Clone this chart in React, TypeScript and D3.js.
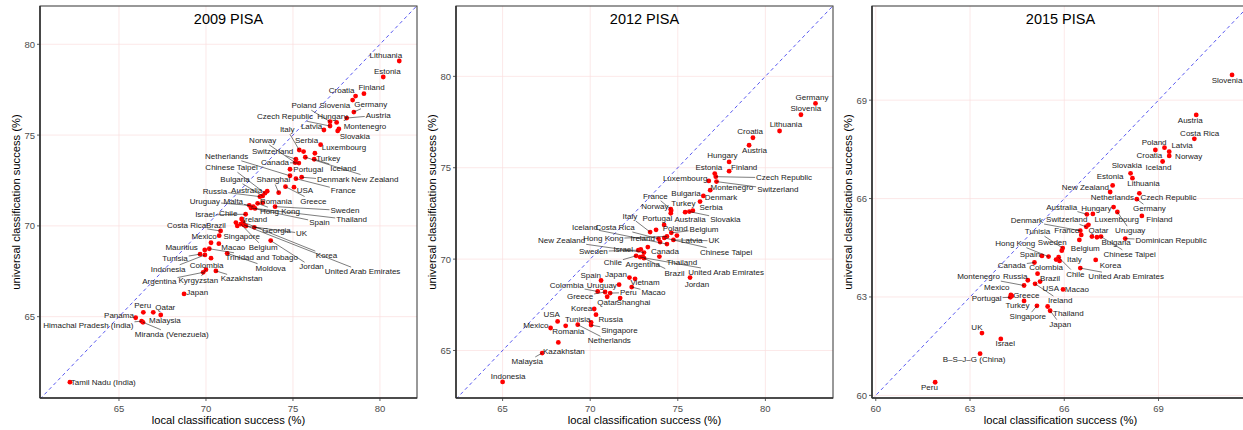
import React from 'react';
import * as d3 from 'd3';

// ---------- 2009 PISA ----------
const countries2009 = ['Lithuania','Estonia','Finland','Croatia','Slovenia','Germany','Poland','Hungary','Austria','Czech Republic','Latvia','Montenegro','Slovakia','Italy','Serbia','Luxembourg','Norway','Switzerland','Turkey','Iceland','New Zealand','Netherlands','Canada','Portugal','Chinese Taipei','Denmark','Bulgaria','Shanghai','France','USA','Greece','Russia','Australia','Uruguay','Malta','Romania','Hong Kong','Sweden','Spain','Thailand','Israel','Chile','Ireland','Costa Rica','Brazil','Singapore','Belgium','Georgia','UK','Korea','Jordan','United Arab Emirates','Mexico','Macao','Mauritius','Tunisia','Trinidad and Tobago','Moldova','Indonesia','Colombia','Argentina','Kyrgyzstan','Kazakhstan','Japan','Peru','Qatar','Malaysia','Panama','Himachal Pradesh (India)','Miranda (Venezuela)','Tamil Nadu (India)'];
const local2009 = [81.11,80.19,79.08,78.60,78.43,78.50,77.13,77.51,78.09,77.13,76.78,77.64,77.57,75.36,75.61,76.59,75.13,75.17,76.26,76.22,75.71,74.83,75.34,74.83,73.39,75.50,73.26,74.18,75.17,75.06,74.57,73.10,73.52,72.49,72.72,73.26,72.97,73.97,72.59,72.82,72.28,71.72,72.05,70.84,70.76,71.80,72.00,72.78,72.30,72.13,73.72,72.18,70.29,70.74,69.93,69.66,70.19,71.22,69.94,70.29,69.84,70.00,70.57,68.74,66.40,66.97,67.40,65.96,66.30,66.38,62.18];
const universal2009 = [79.08,78.20,77.28,77.15,76.93,76.27,75.74,75.70,75.94,75.50,75.28,75.34,75.23,74.18,74.09,74.47,73.48,73.67,74.00,73.67,73.78,72.76,73.46,73.12,71.80,72.68,71.65,71.83,72.60,72.13,72.16,71.61,71.91,71.13,71.06,71.28,71.24,71.06,70.99,70.96,70.64,70.18,70.38,69.72,69.46,70.00,70.10,69.92,69.99,70.21,69.19,70.05,69.07,69.02,68.67,68.44,68.74,68.49,68.40,68.22,67.44,67.59,67.52,66.25,65.24,65.24,65.09,64.94,64.75,64.69,61.39];
const labelLocal2009 = [80.34,80.42,79.52,77.80,77.41,79.47,75.63,77.26,79.90,74.54,76.07,79.14,78.56,74.67,75.78,77.93,73.26,73.83,77.03,77.89,79.71,71.19,73.97,75.88,71.47,77.32,71.67,73.87,77.89,75.69,76.17,70.52,72.34,69.94,71.57,74.02,74.25,77.99,76.52,78.37,69.94,71.28,72.82,68.89,70.57,72.05,73.29,74.06,75.50,76.93,76.07,79.00,69.89,71.57,68.60,68.22,73.20,73.72,67.83,70.04,67.32,69.56,72.05,69.50,66.36,67.66,67.64,65.00,63.24,68.03,64.10];
const labelUniversal2009 = [79.41,78.53,77.61,77.43,76.62,76.70,76.62,76.04,76.09,76.01,75.45,75.48,74.91,75.30,74.69,74.34,74.71,74.12,73.72,73.17,72.58,73.83,73.50,73.12,73.20,72.53,72.57,72.53,71.94,71.94,71.37,71.92,71.96,71.33,71.33,71.33,70.78,70.84,70.20,70.33,70.60,70.69,70.33,70.00,70.00,69.41,68.82,69.72,69.59,68.36,67.75,67.48,69.42,68.82,68.82,68.22,68.27,67.67,67.61,67.81,66.95,67.00,67.08,66.34,65.64,65.50,64.78,65.06,64.50,64.03,61.39];

// ---------- 2012 PISA ----------
const countries2012 = ['Germany','Slovenia','Lithuania','Croatia','Austria','Hungary','Finland','Estonia','Czech Republic','Luxembourg','Switzerland','Montenegro','Bulgaria','Denmark','Serbia','Australia','Slovakia','France','Norway','Turkey','Italy','Portugal','Poland','Belgium','Iceland','Costa Rica','Ireland','Hong Kong','New Zealand','Latvia','UK','Chinese Taipei','Sweden','Israel','Canada','Chile','Argentina','Brazil','Thailand','United Arab Emirates','Jordan','Spain','Japan','Vietnam','Colombia','Uruguay','Greece','Peru','Macao','Qatar','Shanghai','Korea','Russia','USA','Mexico','Tunisia','Romania','Singapore','Netherlands','Kazakhstan','Malaysia','Indonesia'];
const local2012 = [82.86,82.03,80.81,79.29,79.07,77.93,77.93,77.11,77.17,76.77,77.21,76.85,76.46,76.27,75.86,75.42,75.66,74.60,74.60,74.62,73.42,73.76,74.22,74.63,74.38,73.90,73.99,74.38,73.07,74.95,74.75,74.23,72.75,72.89,73.29,72.62,73.00,73.07,73.95,72.85,75.70,70.62,72.24,72.56,70.43,71.65,70.85,71.14,72.37,70.97,71.71,70.23,70.33,68.14,67.74,70.05,68.60,70.05,69.29,68.18,67.26,65.00];
const universal2012 = [78.52,77.90,77.01,76.64,76.23,75.32,74.81,74.68,74.51,74.28,74.24,73.77,73.46,73.15,72.65,72.57,72.60,72.73,72.51,72.64,71.48,71.60,71.87,71.44,70.82,71.11,70.93,71.24,70.36,71.29,71.05,71.16,70.49,70.53,70.66,70.18,70.14,70.05,70.14,70.11,68.99,68.83,68.99,68.92,68.23,68.60,68.20,68.14,68.47,67.94,67.87,67.27,66.96,66.59,66.23,66.54,66.35,66.39,66.41,65.44,64.86,63.28];
const labelLocal2012 = [82.66,82.31,81.17,79.13,79.38,77.55,78.79,76.77,81.07,75.42,80.71,78.09,75.47,77.47,76.90,75.70,77.71,73.72,73.69,75.32,72.27,73.83,74.85,76.50,69.70,71.42,73.00,70.75,68.37,75.80,77.07,77.76,70.18,71.89,74.27,71.29,73.00,74.81,75.23,77.76,76.09,70.03,71.47,73.13,68.66,70.66,69.42,72.18,73.61,70.98,72.47,69.51,71.17,67.80,66.90,69.29,68.75,71.67,71.09,68.50,66.41,65.32];
const labelUniversal2012 = [78.85,78.23,77.34,76.96,75.92,75.66,75.03,74.99,74.44,74.39,73.80,73.93,73.61,73.37,72.80,72.19,72.19,73.44,72.86,73.04,72.33,72.20,71.66,71.64,71.73,71.73,71.11,71.11,71.00,71.00,71.00,70.38,70.42,70.55,70.42,69.81,69.73,69.23,69.81,69.27,68.63,69.10,69.14,68.74,68.54,68.54,67.96,68.17,68.17,67.60,67.60,67.32,66.72,66.96,66.35,66.72,66.04,66.10,65.53,64.95,64.40,63.58];

// ---------- 2015 PISA ----------
const countries2015 = ['Slovenia','Austria','Costa Rica','Poland','Latvia','Croatia','Norway','Iceland','Slovakia','Lithuania','Estonia','New Zealand','Netherlands','Czech Republic','Germany','Finland','Uruguay','Australia','Hungary','Luxembourg','Switzerland','Denmark','France','Qatar','Bulgaria','Chinese Taipei','Dominican Republic','Tunisia','Belgium','Hong Kong','Sweden','Spain','Italy','Canada','Colombia','Chile','Korea','United Arab Emirates','Montenegro','Russia','Brazil','Mexico','Portugal','Greece','USA','Macao','Ireland','Turkey','Singapore','Thailand','Japan','UK','Israel','B\u2013S\u2013J\u2013G (China)','Peru'];
const local2015 = [71.34,70.20,70.14,68.90,69.34,69.19,69.34,69.13,68.11,68.17,67.54,67.46,67.57,68.39,68.31,68.47,67.69,66.72,66.91,66.77,66.70,66.51,66.54,66.88,67.04,67.17,67.94,65.95,66.48,65.50,65.92,65.29,65.85,65.05,65.74,65.82,67.00,66.51,64.72,64.84,65.15,64.30,64.28,64.33,65.23,65.96,65.07,64.72,65.13,65.47,65.55,63.38,63.98,63.32,61.89];
const universal2015 = [69.77,68.55,67.82,67.48,67.43,67.55,67.30,67.13,66.77,66.62,66.40,66.20,65.74,66.16,65.98,65.47,65.59,65.52,65.53,65.20,65.14,65.02,64.89,64.84,64.82,64.84,64.78,64.49,64.74,64.23,64.41,64.25,64.10,64.05,64.14,64.21,64.13,63.88,63.35,63.51,63.71,63.06,62.99,63.03,63.47,63.23,63.40,62.88,62.73,62.71,62.58,61.90,61.72,61.27,60.40];
const labelLocal2015 = [71.18,70.01,70.31,68.86,69.75,68.71,69.96,69.00,67.99,68.52,67.46,66.67,67.53,69.32,68.71,69.03,68.10,65.92,67.02,67.67,66.08,64.81,66.08,67.09,67.65,68.08,69.40,65.15,66.67,64.44,65.62,64.91,66.32,64.33,65.42,66.35,67.47,67.97,63.27,64.44,65.55,63.85,63.53,64.79,65.57,66.40,65.87,64.51,64.84,66.13,65.87,63.22,64.12,63.13,61.71];
const labelUniversal2015 = [69.60,68.37,67.99,67.71,67.61,67.32,67.27,66.95,67.00,66.46,66.67,66.35,66.03,66.02,65.69,65.36,65.02,65.74,65.71,65.35,65.35,65.32,65.02,65.02,64.67,64.30,64.72,64.99,64.47,64.64,64.67,64.30,64.13,63.96,63.90,63.70,63.96,63.62,63.61,63.61,63.57,63.29,62.96,63.04,63.25,63.23,62.89,62.74,62.40,62.51,62.17,62.07,61.57,61.08,60.24];

// ---------- tick labels ----------
const ticks2009 = [65, 70, 75, 80];
const ticks2012 = [65, 70, 75, 80];
const ticks2015 = [60, 63, 66, 69];

const FONT = '"Liberation Sans", Arial, Helvetica, sans-serif';
const LABEL_SIZE = 8;

let ctx: CanvasRenderingContext2D | null = null;
function textWidth(s: string, size: number): number {
  if (typeof document !== 'undefined' && !ctx) {
    ctx = document.createElement('canvas').getContext('2d');
  }
  if (!ctx) return s.length * size * 0.5;
  ctx.font = `${size}px "Liberation Sans"`;
  return ctx.measureText(s).width;
}

const TOP = 6;
const BOTTOM = 398;
const PW = 377;

const panels = [
  { id: 'p2009', title: '2009 PISA', names: countries2009, xs: local2009, ys: universal2009, lxs: labelLocal2009, lys: labelUniversal2009, ticks: ticks2009, dx: [60.46, 82.13], dy: [60.52, 82.11], left: 40 },
  { id: 'p2012', title: '2012 PISA', names: countries2012, xs: local2012, ys: universal2012, lxs: labelLocal2012, lys: labelUniversal2012, ticks: ticks2012, dx: [62.34, 83.86], dy: [62.40, 83.85], left: 456 },
  { id: 'p2015', title: '2015 PISA', names: countries2015, xs: local2015, ys: universal2015, lxs: labelLocal2015, lys: labelUniversal2015, ticks: ticks2015, dx: [59.88, 71.88], dy: [59.92, 71.87], left: 872 },
];

function Panel({ p }: { p: typeof panels[number] }) {
  const x = d3.scaleLinear().domain(p.dx).range([p.left, p.left + PW]);
  const y = d3.scaleLinear().domain(p.dy).range([BOTTOM, TOP]);
  const lo = Math.min(p.dx[0], p.dy[0]);
  const hi = Math.max(p.dx[1], p.dy[1]);
  const cx = p.left + PW / 2;

  const segs: { x1: number; y1: number; x2: number; y2: number }[] = [];
  p.names.forEach((n, i) => {
    const px = x(p.xs[i]), py = y(p.ys[i]);
    const lx = x(p.lxs[i]), ly = y(p.lys[i]);
    const hw = textWidth(n, LABEL_SIZE) / 2 + 1, hh = 4.5;
    const ddx = px - lx, ddy = py - ly;
    if (Math.abs(ddx) <= hw && Math.abs(ddy) <= hh) return;
    const t = Math.min(hw / Math.max(Math.abs(ddx), 1e-6), hh / Math.max(Math.abs(ddy), 1e-6));
    const ex = lx + ddx * t, ey = ly + ddy * t;
    const len = Math.hypot(px - ex, py - ey);
    if (len > 7) segs.push({ x1: px, y1: py, x2: ex, y2: ey });
  });

  return (
    <g>
      <defs>
        <clipPath id={`clip-${p.id}`}>
          <rect x={p.left} y={TOP} width={PW} height={BOTTOM - TOP} />
        </clipPath>
      </defs>
      <rect x={p.left} y={TOP} width={PW} height={BOTTOM - TOP} fill="#fff" />
      {p.ticks.map((t) => (
        <g key={`g${t}`}>
          <line x1={x(t)} x2={x(t)} y1={TOP} y2={BOTTOM} stroke="#fbdede" strokeWidth={0.7} />
          <line x1={p.left} x2={p.left + PW} y1={y(t)} y2={y(t)} stroke="#fbdede" strokeWidth={0.7} />
        </g>
      ))}
      <g clipPath={`url(#clip-${p.id})`}>
        <line x1={x(lo)} y1={y(lo)} x2={x(hi)} y2={y(hi)} stroke="#4444ee" strokeWidth={0.9} strokeDasharray="3.5,3" />
        {p.names.map((n, i) => (
          <circle key={`c${i}`} cx={x(p.xs[i])} cy={y(p.ys[i])} r={2.4} fill="#ff0000" />
        ))}
        {segs.map((s, i) => (
          <line key={`s${i}`} x1={s.x1} y1={s.y1} x2={s.x2} y2={s.y2} stroke="#111" strokeWidth={0.55} />
        ))}
        {p.names.map((n, i) => (
          <text key={`t${i}`} x={x(p.lxs[i])} y={y(p.lys[i])} fontSize={LABEL_SIZE} fontFamily={FONT} fill="#222" textAnchor="middle" dominantBaseline="central">{n}</text>
        ))}
        <text x={cx} y={24} fontSize={14.5} fontFamily={FONT} textAnchor="middle" fill="#000">{p.title}</text>
      </g>
      <rect x={p.left} y={TOP} width={PW} height={BOTTOM - TOP} fill="none" stroke="#333" strokeWidth={1} />
      <line x1={p.left} x2={p.left} y1={TOP} y2={BOTTOM} stroke="#333" strokeWidth={1.6} />
      <line x1={p.left} x2={p.left + PW} y1={BOTTOM} y2={BOTTOM} stroke="#333" strokeWidth={1.6} />
      {p.ticks.map((t) => (
        <g key={`t${t}`}>
          <line x1={x(t)} x2={x(t)} y1={BOTTOM} y2={BOTTOM + 3} stroke="#333" strokeWidth={0.8} />
          <text x={x(t)} y={412} fontSize={9.5} fontFamily={FONT} fill="#4d4d4d" textAnchor="middle">{t}</text>
          <line x1={p.left - 3} x2={p.left} y1={y(t)} y2={y(t)} stroke="#333" strokeWidth={0.8} />
          <text x={p.left - 5} y={y(t)} fontSize={9.5} fontFamily={FONT} fill="#4d4d4d" textAnchor="end" dominantBaseline="central">{t}</text>
        </g>
      ))}
      <text x={cx} y={424} fontSize={11.2} fontFamily={FONT} fill="#000" textAnchor="middle">local classification success (%)</text>
      <text transform={`translate(${p.left - 20},${(TOP + BOTTOM) / 2}) rotate(-90)`} fontSize={11.2} fontFamily={FONT} fill="#000" textAnchor="middle">universal classification success (%)</text>
    </g>
  );
}

export default function App() {
  return (
    <svg width={1243} height={430} style={{ position: 'absolute', left: 0, top: 0, background: '#fff' }}>
      <rect x={0} y={0} width={1243} height={430} fill="#fff" />
      {panels.map((p) => (
        <Panel key={p.id} p={p} />
      ))}
    </svg>
  );
}
